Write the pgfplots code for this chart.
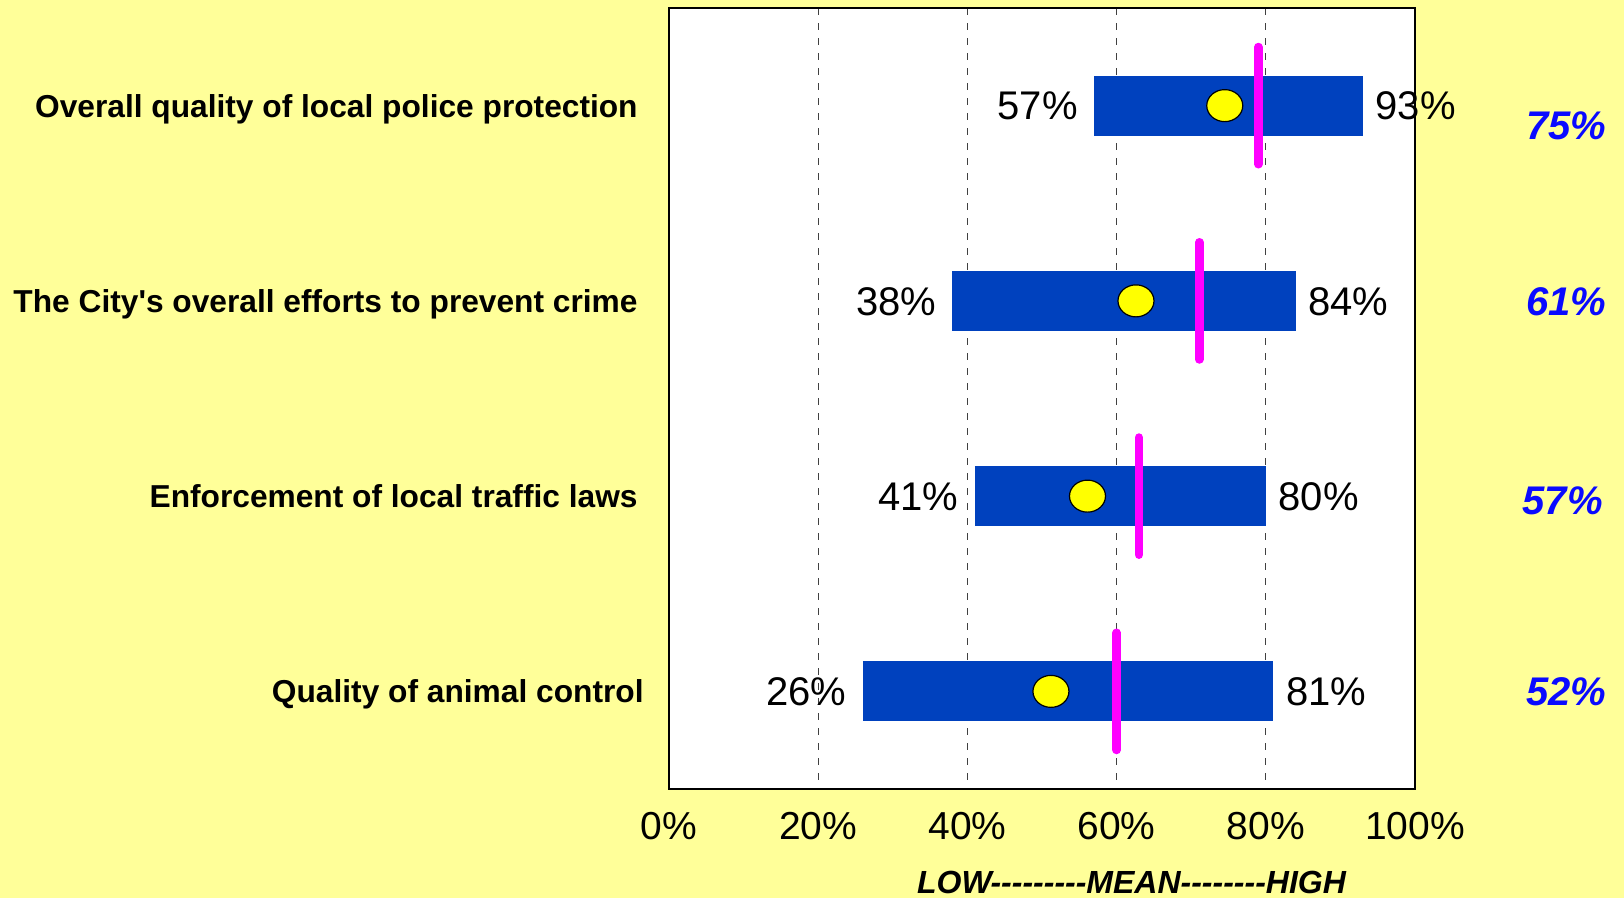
\documentclass[border=0pt]{standalone}
\usepackage{pgfplots}
\pgfplotsset{compat=1.18}
\usepackage{pgfplotstable}
\usepackage{fontspec}
\setmainfont{Liberation Sans}[Ligatures=TeXOff]
\definecolor{bgyellow}{HTML}{FFFF99}
\definecolor{barblue}{HTML}{0041BE}
\definecolor{meanmag}{HTML}{FF00FF}
\definecolor{dotyellow}{HTML}{FFFF00}
\definecolor{lblblue}{HTML}{0A0AFF}

\pgfplotstableread{
row low high dot mean
1 57 93 74.5 79.0
2 38 84 62.6 71.1
3 41 80 56.1 63.0
4 26 81 51.2 60.0
}\datatable

\begin{document}
\begin{tikzpicture}
\fill[bgyellow] (-334.5pt,-54.5pt) rectangle (477.5pt,394.5pt);
\useasboundingbox (-334.5pt,-54.5pt) rectangle (477.5pt,394.5pt);
\begin{axis}[
  at={(0,0)}, anchor=south west,
  scale only axis, width=373pt, height=390.5pt,
  xmin=0, xmax=100, ymin=0.5, ymax=4.5, y dir=reverse,
  axis background/.style={fill=white},
  axis line style={line width=1.2pt, black},
  xtick={0,20,40,60,80,100},
  xticklabels={0\%,20\%,40\%,60\%,80\%,100\%},
  ytick={1,2,3,4},
  yticklabels={Overall quality of local police protection,
               The City's overall efforts to prevent crime,
               Enforcement of local traffic laws,
               {Quality of animal control\kern-3pt\relax}},
  major tick length=0pt,
  xmajorgrids,
  grid style={line width=0.5pt, black!75, dash pattern=on 3.6pt off 3.9pt},
  x tick label style={font=\fontsize{19.5}{23}\selectfont, inner sep=0pt, anchor=north, text height=14pt, text depth=0pt, yshift=-11pt},
  y tick label style={font=\fontsize{15.85}{19}\selectfont\bfseries, inner sep=0pt, anchor=east, text height=11.4pt, text depth=0pt, xshift=-15.5pt},
  clip=false,
]
% range bars
\addplot[barblue, line width=30pt, line cap=butt, mark=none] coordinates {(57,1) (93,1)};
\addplot[barblue, line width=30pt, line cap=butt, mark=none] coordinates {(38,2) (84,2)};
\addplot[barblue, line width=30pt, line cap=butt, mark=none] coordinates {(41,3) (80,3)};
\addplot[barblue, line width=30pt, line cap=butt, mark=none] coordinates {(26,4) (81,4)};
% mean lines
\addplot[meanmag, line width=4.3pt, line cap=round, mark=none] coordinates {(79.0,0.70) (79.0,1.30)};
\addplot[meanmag, line width=4.3pt, line cap=round, mark=none] coordinates {(71.1,1.70) (71.1,2.30)};
\addplot[meanmag, line width=4.3pt, line cap=round, mark=none] coordinates {(63.0,2.70) (63.0,3.30)};
\addplot[meanmag, line width=4.3pt, line cap=round, mark=none] coordinates {(60.0,3.70) (60.0,4.30)};
% yellow dots
\addplot[only marks, mark=*, mark size=8pt, mark options={xscale=1.125, fill=dotyellow, draw=black, line width=0.6pt}] table[x=dot, y=row] {\datatable};
% low labels
\addplot[draw=none, mark=none, point meta=explicit symbolic,
  nodes near coords={\pgfplotspointmeta\%},
  every node near coord/.style={anchor=east, inner sep=0pt, xshift=-8pt, text height=14.3pt, text depth=0pt, font=\fontsize{20}{24}\selectfont, black}]
  table[x=low, y=row, meta=low] {\datatable};
% high labels
\addplot[draw=none, mark=none, point meta=explicit symbolic,
  nodes near coords={\pgfplotspointmeta\%},
  every node near coord/.style={anchor=west, inner sep=0pt, xshift=6.2pt, text height=14.3pt, text depth=0pt, font=\fontsize{20}{24}\selectfont, black}]
  table[x=high, y=row, meta=high] {\datatable};
% right-hand blue values
\node[anchor=east, inner sep=0pt, text height=14.5pt, text depth=0pt, font=\fontsize{20}{24}\selectfont\bfseries\itshape, text=lblblue] at (axis cs:125.7,1.10) {75\%};
\node[anchor=east, inner sep=0pt, text height=14.5pt, text depth=0pt, font=\fontsize{20}{24}\selectfont\bfseries\itshape, text=lblblue] at (axis cs:125.7,2.00) {61\%};
\node[anchor=east, inner sep=0pt, text height=14.5pt, text depth=0pt, font=\fontsize{20}{24}\selectfont\bfseries\itshape, text=lblblue] at (axis cs:125.2,3.02) {57\%};
\node[anchor=east, inner sep=0pt, text height=14.5pt, text depth=0pt, font=\fontsize{20}{24}\selectfont\bfseries\itshape, text=lblblue] at (axis cs:125.7,4.00) {52\%};
% axis caption
\node[anchor=base, inner sep=0pt, font=\fontsize{16}{19}\selectfont\bfseries\itshape] at ([yshift=-52.4pt]rel axis cs:0.62,0) {LOW---------MEAN--------HIGH};
\end{axis}
\end{tikzpicture}
\end{document}
